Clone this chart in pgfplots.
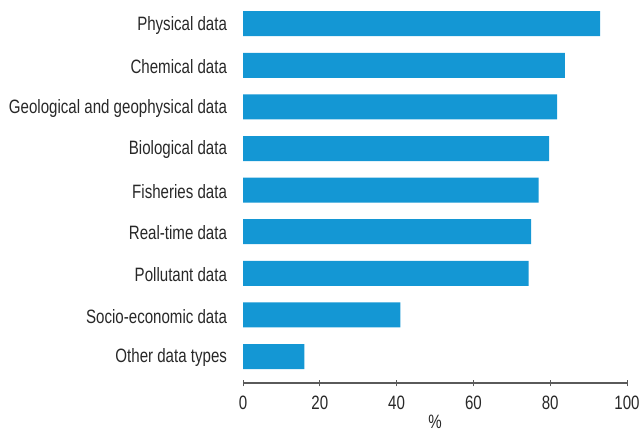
\documentclass[border=0pt]{standalone}
\usepackage{fontspec}
\setmainfont{Liberation Sans}[FakeStretch=0.78]
\usepackage{pgfplots}
\pgfplotsset{compat=1.18}
\definecolor{barblue}{RGB}{20,151,212}
\definecolor{txt}{RGB}{40,40,40}
\definecolor{axgray}{RGB}{90,90,90}
\begin{document}
\begin{tikzpicture}[x=1pt,y=1pt]
\useasboundingbox (0,0) rectangle (480.75,-323.25);
\begin{axis}[
  at={(182.25pt,-287.25pt)}, anchor=south west,
  scale only axis,
  width=288pt, height=286.6pt,
  xbar, bar width=18.75pt,
  xmin=0, xmax=100,
  ymin=-0.637, ymax=8.55,
  axis x line*=bottom,
  axis y line*=left,
  y axis line style={draw=none},
  x axis line style={draw=axgray, line width=0.8pt, -},
  xtick={0,20,40,60,80,100},
  major tick length=5pt,
  tick align=center,
  xtick style={draw=axgray, line width=0.7pt},
  ytick={0,...,8},
  yticklabels={Other data types,Socio-economic data,Pollutant data,Real-time data,Fisheries data,Biological data,Geological and geophysical data,Chemical data,Physical data},
  ytick style={draw=none},
  /pgf/number format/assume math mode=true,
  tick label style={font=\fontsize{14.5}{16}\selectfont, text=txt},
  yticklabel style={xshift=-6pt, yshift=-1pt},
  xticklabel style={yshift=-4pt},
  xlabel={\%},
  xlabel style={font=\fontsize{14.5}{16}\selectfont, text=txt, inner sep=0pt, yshift=0pt},
  clip=false,
]
\addplot[draw=none, fill=barblue] coordinates {
  (16,0) (41,1) (74.4,2) (75,3) (77,4) (79.7,5) (81.8,6) (83.8,7) (93,8)
};
\end{axis}
\end{tikzpicture}
\end{document}
